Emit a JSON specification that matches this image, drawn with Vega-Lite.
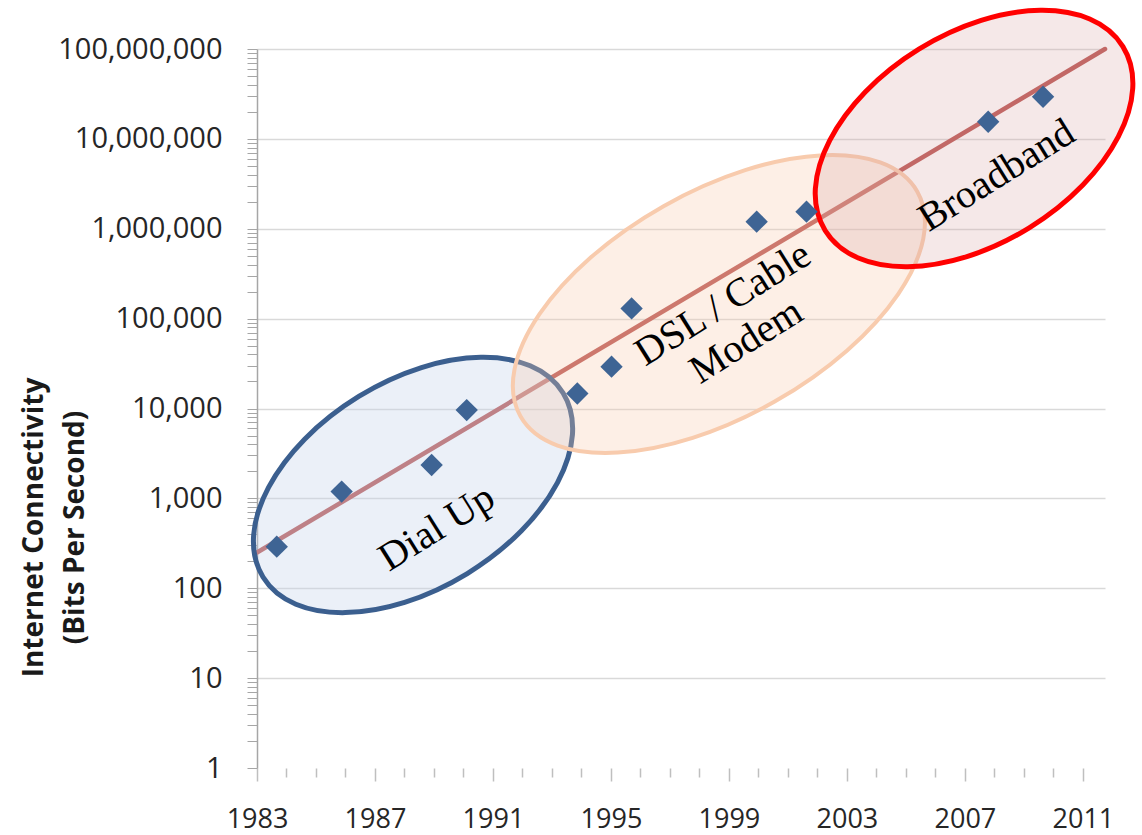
{
  "$schema": "https://vega.github.io/schema/vega-lite/v6.json",
  "autosize": {"type": "none"},
  "padding": {"left": 257, "top": 49, "right": 37, "bottom": 67},
  "width": 848,
  "height": 719,
  "background": "white",
  "config": {"view": {"stroke": null}},
  "datasets": {
    "measured": [
      {"year": 1983.67, "bps": 290},
      {"year": 1985.87, "bps": 1190},
      {"year": 1988.92, "bps": 2350},
      {"year": 1990.11, "bps": 9600},
      {"year": 1993.86, "bps": 14700},
      {"year": 1995.02, "bps": 29200},
      {"year": 1995.70, "bps": 130000},
      {"year": 1999.94, "bps": 1200000},
      {"year": 2001.63, "bps": 1550000},
      {"year": 2007.79, "bps": 15500000},
      {"year": 2009.65, "bps": 29400000}
    ],
    "trend": [
      {"year": 1983, "bps": 250},
      {"year": 2011.75, "bps": 100000000}
    ],
    "dialup": [{"year": 1988.29, "bps": 1409, "era": "Dial Up"}],
    "dsl": [{"year": 1998.66, "bps": 145500, "era": "DSL / Cable Modem"}],
    "broadband": [{"year": 2007.31, "bps": 10090000, "era": "Broadband"}],
    "labels": [
      {"year": 1989.10, "bps": 468, "label": ["Dial Up"]},
      {"year": 1998.80, "bps": 145500, "label": ["DSL / Cable", "Modem"]},
      {"year": 2008.08, "bps": 3900000, "label": ["Broadband"]}
    ]
  },
  "encoding": {
    "x": {
      "field": "year",
      "type": "quantitative",
      "scale": {"domain": [1983, 2011.75], "nice": false, "zero": false},
      "axis": {
        "values": [1983,1984,1985,1986,1987,1988,1989,1990,1991,1992,1993,1994,1995,1996,1997,1998,1999,2000,2001,2002,2003,2004,2005,2006,2007,2008,2009,2010,2011],
        "title": null,
        "grid": false,
        "domain": false,
        "labelExpr": "(datum.value - 1983) % 4 == 0 ? format(datum.value, 'd') : ''",
        "labelOverlap": false,
        "labelFlush": false,
        "labelFont": "Open Sans",
        "labelFontSize": 27,
        "labelColor": "#262626",
        "tickColor": "#bfbfbf",
        "tickWidth": 1.5,
        "tickSize": {"condition": {"test": "(datum.value - 1983) % 4 == 0", "value": 13}, "value": 9},
        "labelPadding": 25
      }
    },
    "y": {
      "field": "bps",
      "type": "quantitative",
      "scale": {"type": "log", "domain": [1, 100000000], "nice": false},
      "axis": {
        "values": [1,2,3,4,5,6,7,8,9,10,20,30,40,50,60,70,80,90,100,200,300,400,500,600,700,800,900,1000,2000,3000,4000,5000,6000,7000,8000,9000,10000,20000,30000,40000,50000,60000,70000,80000,90000,100000,200000,300000,400000,500000,600000,700000,800000,900000,1000000,2000000,3000000,4000000,5000000,6000000,7000000,8000000,9000000,10000000,20000000,30000000,40000000,50000000,60000000,70000000,80000000,90000000,100000000],
        "title": ["Internet Connectivity", "(Bits Per Second)"],
        "titleFont": "Open Sans",
        "titleFontWeight": "bold",
        "titleFontSize": 28,
        "titleColor": "#1a1a1a",
        "titleAngle": -90,
        "titleAlign": "center",
        "titleBaseline": "alphabetic",
        "titleLineHeight": 41,
        "titleX": -215,
        "titleY": 478,
        "grid": true,
        "gridColor": "#d9d9d9",
        "gridWidth": 1.5,
        "gridOpacity": {"condition": {"test": "abs(log(datum.value)/LN10 - round(log(datum.value)/LN10)) < 0.001 && datum.value > 1", "value": 1}, "value": 0},
        "labelExpr": "abs(log(datum.value)/LN10 - round(log(datum.value)/LN10)) < 0.001 ? format(datum.value, ',') : ''",
        "labelOverlap": false,
        "labelFlush": false,
        "labelFont": "Open Sans",
        "labelFontSize": 29,
        "labelColor": "#262626",
        "domainColor": "#a6a6a6",
        "domainWidth": 1.5,
        "tickColor": "#a6a6a6",
        "tickWidth": 1,
        "tickSize": 10,
        "labelPadding": 25
      }
    }
  },
  "layer": [
    {
      "data": {"name": "trend"},
      "mark": {"type": "line", "color": "#bb5552", "strokeWidth": 4.5, "strokeCap": "round"}
    },
    {
      "data": {"name": "dialup"},
      "mark": {"type": "point", "shape": "M-1,0A1,0.59,0,1,1,1,0A1,0.59,0,1,1,-1,0Z", "size": 123904, "angle": -31.5, "filled": true, "fill": "#c5d5ea", "fillOpacity": 0.35, "stroke": "#3b5f8f", "strokeWidth": 5, "opacity": 1}
    },
    {
      "data": {"name": "dsl"},
      "mark": {"type": "point", "shape": "M-1,0A1,0.493,0,1,1,1,0A1,0.493,0,1,1,-1,0Z", "size": 207936, "angle": -29.5, "filled": true, "fill": "#f8cbad", "fillOpacity": 0.3, "stroke": "#f8cbad", "strokeWidth": 4, "opacity": 1}
    },
    {
      "data": {"name": "broadband"},
      "mark": {"type": "point", "shape": "M-1,0A1,0.6,0,1,1,1,0A1,0.6,0,1,1,-1,0Z", "size": 122500, "angle": -31.7, "filled": true, "fill": "#d9a3a3", "fillOpacity": 0.25, "stroke": "#ff0000", "strokeWidth": 5, "opacity": 1}
    },
    {
      "data": {"name": "measured"},
      "mark": {"type": "point", "shape": "diamond", "filled": true, "color": "#3e6494", "size": 500, "opacity": 1}
    },
    {
      "data": {"name": "labels"},
      "mark": {"type": "text", "font": "Liberation Serif", "fontSize": 40, "angle": -32, "align": "center", "baseline": "middle", "lineHeight": 44, "color": "#000000"},
      "encoding": {"text": {"field": "label"}}
    }
  ]
}
